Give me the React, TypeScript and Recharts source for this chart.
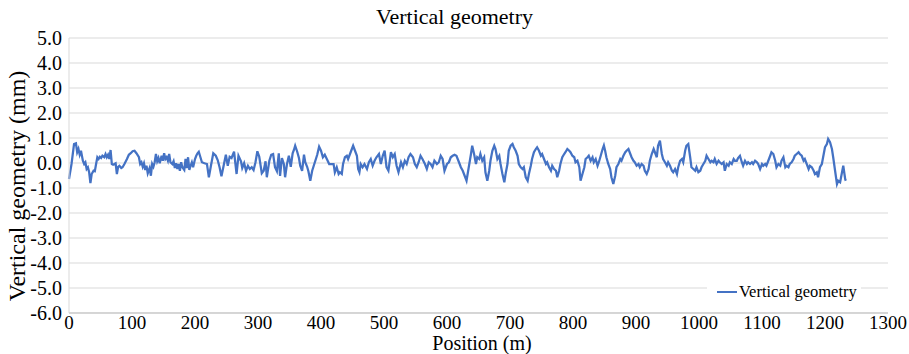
import React from "react";
import { LineChart, Line, XAxis, YAxis, CartesianGrid, Legend } from "recharts";

const chartTitle = "Vertical geometry";
const seriesName = "Vertical geometry";
const xAxisTitle = "Position (m)";
const yAxisTitle = "Vertical geometry (mm)";

const xTicks = [0, 100, 200, 300, 400, 500, 600, 700, 800, 900, 1000, 1100, 1200, 1300];
const yTicks = [-6, -5, -4, -3, -2, -1, 0, 1, 2, 3, 4, 5];

// positions along the track (m)
const positions = [
  0, 4, 8, 11, 13, 15, 17, 19, 22, 24,
  26, 28, 30, 32, 34, 36, 39, 41, 43, 45,
  47, 49, 51, 53, 56, 58, 60, 62, 64, 66,
  68, 70, 74, 76, 78, 80, 83, 85, 88, 92,
  95, 98, 101, 104, 107, 111, 113, 115, 117, 119,
  121, 123, 125, 128, 130, 132, 134, 136, 138, 140,
  142, 144, 147, 149, 151, 153, 155, 157, 159, 161,
  164, 166, 168, 170, 172, 174, 176, 178, 180, 183,
  185, 187, 189, 191, 193, 195, 197, 200, 202, 204,
  206,
  211, 215, 219, 222, 225, 229, 233, 236, 239, 242,
  246, 249, 252, 255, 258, 262, 266, 269, 273, 275,
  278, 281, 284, 287, 290, 293, 296, 299, 302, 306,
  309, 312, 314, 318, 321, 324, 327, 330, 333, 335,
  338, 341, 343, 346, 349, 352, 355, 357, 359, 362,
  365, 367, 370, 373, 375, 378, 380, 383, 386, 388,
  391, 394, 397, 400, 403, 406, 410, 413,
  420, 422, 425, 428, 430, 433, 435, 438, 441, 443,
  446, 449, 451, 454, 457, 459, 461, 463, 466, 469,
  473, 476, 479, 482, 485, 488, 492, 495, 498, 501,
  504, 507, 511, 514, 517, 520, 523, 527, 530, 533,
  536, 539, 542, 546, 549, 552, 555, 558, 561, 565,
  568, 571, 574, 577, 580, 584, 587, 590, 593, 596,
  600, 603, 606, 609, 612, 615, 619, 622, 625, 628,
  631,
  635, 638, 640, 643, 646, 648, 651, 653, 656, 659,
  661, 664, 667, 669, 672, 675, 677, 680, 683, 685,
  688, 691, 693, 696, 698, 701, 704, 706, 709, 712,
  714, 717, 720, 722, 725, 728, 730, 733, 735, 738,
  741, 743, 746, 749, 751, 754, 757, 759, 762, 765,
  767, 770, 773, 775, 778, 780, 783, 786, 788, 791,
  794, 796, 799, 802, 804, 807, 810, 812, 815, 818,
  820, 823, 825, 828, 831, 833, 836, 839, 841, 844,
  847, 849,
  851, 853, 856, 859, 861, 864, 867, 869, 872, 875,
  877, 880, 883, 885, 888, 891, 893, 896, 898, 901,
  904, 906, 909, 912, 914, 917, 920, 922, 925, 928,
  930, 933, 935, 938, 941, 943, 946, 949, 951, 954,
  957, 959, 962, 965, 967, 970, 973, 975, 978, 980,
  983, 986, 988, 991, 994, 996, 999, 1002, 1004, 1007,
  1010, 1012, 1015, 1018, 1020, 1023, 1025, 1028, 1031, 1033,
  1036, 1039, 1041, 1044, 1047, 1049, 1052, 1055, 1057, 1060,
  1062,
  1065, 1068, 1070, 1073, 1076, 1078, 1081, 1084, 1086, 1089,
  1092, 1094, 1097, 1100, 1102, 1105, 1107, 1110, 1113, 1115,
  1118, 1121, 1123, 1126, 1129, 1131, 1134, 1137, 1139, 1142,
  1144, 1147, 1150, 1152, 1155, 1158, 1160, 1163, 1166, 1168,
  1171, 1174, 1176, 1179, 1182, 1184, 1187, 1189, 1192, 1195,
  1197, 1200, 1203, 1205, 1208, 1211, 1213, 1216, 1219, 1221,
  1224, 1227, 1229, 1232, 1233,
];

// vertical geometry (mm)
const values = [
  -0.64, -0.04, 0.76, 0.79, 0.43, 0.56, 0.33, 0.49, 0.09, -0.04,
  0.03, -0.24, -0.17, -0.37, -0.8, -0.44, -0.31, -0.33, -0.04, 0.23,
  0.16, 0.25, 0.2, 0.29, 0.23, 0.36, 0.23, 0.33, 0.16, 0.52,
  -0.04, -0.07, -0.01, -0.44, -0.15, -0.11, -0.2, -0.17, -0.04, 0.16,
  0.33, 0.39, 0.47, 0.49, 0.39, 0.23, -0.04, 0.03, -0.15, -0.01,
  -0.28, -0.11, -0.41, -0.2, -0.51, -0.04, -0.15, 0.03, 0.36, 0.07,
  0.2, -0.01, 0.29, 0.09, 0.39, 0.16, 0.23, 0.09, 0.36, 0.03,
  -0.04, 0.07, -0.2, -0.01, -0.24, -0.04, -0.31, 0.03, -0.17, -0.28,
  0.16, -0.2, 0.23, -0.28, -0.11, 0.03, -0.17, 0.16, 0.29, 0.39,
  0.45,
  0.03, -0.01, -0.04, -0.57, -0.15, 0.39, 0.29, 0.12, -0.17, -0.53,
  -0.04, 0.33, -0.11, 0.25, 0.2, 0.45, -0.44, 0.29, 0.07, -0.2,
  -0.01, -0.31, -0.11, -0.24, -0.17, -0.28, 0.03, 0.47, 0.25, -0.41,
  -0.31, 0.07, -0.57, 0.09, 0.33, 0.36, -0.17, -0.33, 0.39, -0.52,
  0.2, -0.04, -0.57, -0.04, 0.29, -0.15, 0.39, 0.52, 0.69, 0.47,
  0.2, -0.11, -0.31, 0.33, 0.03, -0.15, -0.33, -0.71, -0.31, -0.15,
  0.09, 0.33, 0.65, 0.49, 0.23, 0.33, 0.12, -0.04,
  -0.04, -0.37, -0.17, -0.44, -0.37, -0.44, -0.04, 0.23, 0.29, 0.16,
  0.36, 0.56, 0.69, 0.49, 0.29, -0.24, -0.37, -0.04, -0.17, -0.04,
  -0.24, 0.03, 0.16, -0.11, 0.09, 0.23, 0.36, -0.04, 0.29, 0.49,
  -0.17, -0.31, 0.43, 0.23, 0.36, -0.11, -0.37, 0.03, -0.17, 0.09,
  -0.04, 0.23, 0.36, 0.23, -0.04, -0.17, 0.03, 0.29, 0.16, -0.04,
  -0.24, 0.03, -0.04, -0.17, 0.09, -0.04, 0.03, 0.29, 0.16, -0.31,
  -0.04, 0.03, 0.23, 0.29, 0.33, 0.29, 0.03, -0.17, -0.31, -0.51,
  -0.71,
  -0.1, 0.35, 0.69, 0.36, -0.04, 0.23, 0.16, 0.36, 0.09, 0.23,
  -0.37, -0.71, -0.31, 0.09, 0.49, 0.69, 0.56, 0.16, 0.29, -0.04,
  -0.44, -0.77, -0.44, -0.04, 0.49, 0.69, 0.76, 0.63, 0.49, 0.29,
  -0.04, -0.17, -0.24, -0.17, -0.57, -0.71, -0.44, -0.11, 0.16, 0.43,
  0.56, 0.63, 0.49, 0.29, 0.36, 0.16, -0.04, 0.03, -0.17, -0.31,
  -0.11, -0.24, -0.31, -0.57, -0.31, -0.04, 0.23, 0.36, 0.43, 0.56,
  0.49, 0.43, 0.29, 0.23, 0.03, 0.09, -0.17, -0.71, -0.44, -0.17,
  0.16, 0.23, 0.29, 0.09, 0.23, 0.03, 0.16, -0.11, 0.03, 0.29,
  0.56, 0.7,
  0.49, 0.23, -0.04, -0.24, -0.57, -0.84, -0.51, -0.17, -0.04, 0.16,
  0.09, 0.29, 0.43, 0.49, 0.56, 0.36, 0.23, 0.09, 0.03, -0.11,
  -0.04, -0.17, -0.04, -0.11, -0.31, -0.44, -0.24, 0.09, 0.36, 0.56,
  0.43, 0.23, 0.69, 0.89, 0.36, 0.16, 0.03, -0.11, 0.03, -0.11,
  -0.31, -0.37, -0.24, -0.44, -0.17, 0.09, 0.16, 0.03, 0.49, 0.69,
  0.76, 0.23, -0.17, -0.24, -0.31, -0.17, -0.37, -0.31, -0.17, -0.04,
  0.09, 0.29, 0.16, 0.03, 0.09, 0.03, 0.16, -0.04, 0.09, 0.03,
  -0.04, 0.03, -0.31, -0.04, -0.11, 0.03, -0.04, 0.16, 0.09, 0.09,
  0.2,
  0.29, 0.03, -0.11, 0.09, -0.04, 0.03, -0.04, 0.03, -0.04, 0.09,
  0.03, -0.04, -0.24, -0.04, -0.11, -0.04, -0.11, 0.09, 0.29, 0.43,
  0.36, 0.09, -0.17, -0.04, -0.11, 0.09, 0.23, -0.17, -0.11, -0.17,
  -0.04, 0.03, 0.16, 0.29, 0.36, 0.43, 0.36, 0.29, 0.09, 0.16,
  -0.04, -0.24, -0.11, -0.17, -0.31, -0.44, -0.37, -0.57, -0.17, -0.04,
  0.23, 0.63, 0.76, 0.96, 0.83, 0.56, 0.23, -0.31, -0.84, -0.71,
  -0.77, -0.37, -0.11, -0.64, -0.71,
];

const data = positions.map((p, i) => ({ position: p, value: values[i] }));

const FONT = '"Liberation Serif", "Times New Roman", serif';
const LINE_COLOR = "#4472C4";

const XTick = (props: any) => {
  const { x, y, payload } = props;
  return (
    <text x={x} y={y} dy="0.71em" textAnchor="middle" fontFamily={FONT} fontSize={19} fill="#000" style={{ fontFamily: FONT }}>
      {String(payload.value)}
    </text>
  );
};

const YTick = (props: any) => {
  const { x, y, payload } = props;
  return (
    <text x={x} y={y} dy="0.355em" textAnchor="end" fontFamily={FONT} fontSize={20} fill="#000" style={{ fontFamily: FONT }}>
      {Number(payload.value).toFixed(1)}
    </text>
  );
};

const LegendContent = () => (
  <div
    style={{
      display: "flex",
      alignItems: "center",
      background: "#fff",
      height: 20,
      padding: "0 4px 0 10px",
      fontFamily: FONT,
      fontSize: 16.5,
      color: "#000",
      whiteSpace: "nowrap",
    }}
  >
    <span style={{ display: "inline-block", width: 20, height: 2, background: LINE_COLOR, marginRight: 2 }} />
    <span>{seriesName}</span>
  </div>
);

export default function App() {
  return (
    <div style={{ position: "absolute", left: 0, top: 0, width: 909, height: 354, background: "#fff", fontFamily: FONT }}>
      <div
        style={{
          position: "absolute",
          left: 0,
          top: 6,
          width: 909,
          textAlign: "center",
          fontFamily: FONT,
          fontSize: 22,
          lineHeight: "22px",
          color: "#000",
          pointerEvents: "none",
        }}
      >
        {chartTitle}
      </div>
      <LineChart
        width={909}
        height={354}
        data={data}
        margin={{ top: 38, right: 21, bottom: 0, left: 0 }}
        style={{ fontFamily: FONT }}
      >
        <CartesianGrid horizontal vertical={false} stroke="#d9d9d9" strokeWidth={1} />
        <XAxis
          dataKey="position"
          type="number"
          domain={[0, 1300]}
          ticks={xTicks}
          interval={0}
          height={41}
          tickLine={false}
          tickSize={0}
          tickMargin={3}
          axisLine={{ stroke: "#bfbfbf" }}
          tick={<XTick />}
          label={{
            content: () => (
              <text x={482} y={349.5} textAnchor="middle" fontFamily={FONT} fontSize={20} fill="#000" style={{ fontFamily: FONT }}>
                {xAxisTitle}
              </text>
            ),
          }}
        />
        <YAxis
          type="number"
          domain={[-6, 5]}
          ticks={yTicks}
          interval={0}
          width={69}
          tickLine={false}
          tickSize={0}
          tickMargin={7}
          axisLine={{ stroke: "#d9d9d9" }}
          tick={<YTick />}
          label={{
            content: () => (
              <text
                x={25}
                y={186}
                transform="rotate(-90, 25, 186)"
                textAnchor="middle"
                fontFamily={FONT}
                fontSize={24}
                fill="#000"
                style={{ fontFamily: FONT }}
              >
                {yAxisTitle}
              </text>
            ),
          }}
        />
        <Legend
          layout="horizontal"
          verticalAlign="middle"
          align="center"
          content={<LegendContent />}
          wrapperStyle={{ left: 707, top: 282, width: "auto", height: 20 }}
        />
        <Line
          type="linear"
          dataKey="value"
          name={seriesName}
          stroke={LINE_COLOR}
          strokeWidth={2.25}
          dot={false}
          activeDot={false}
          isAnimationActive={false}
        />
      </LineChart>
    </div>
  );
}
